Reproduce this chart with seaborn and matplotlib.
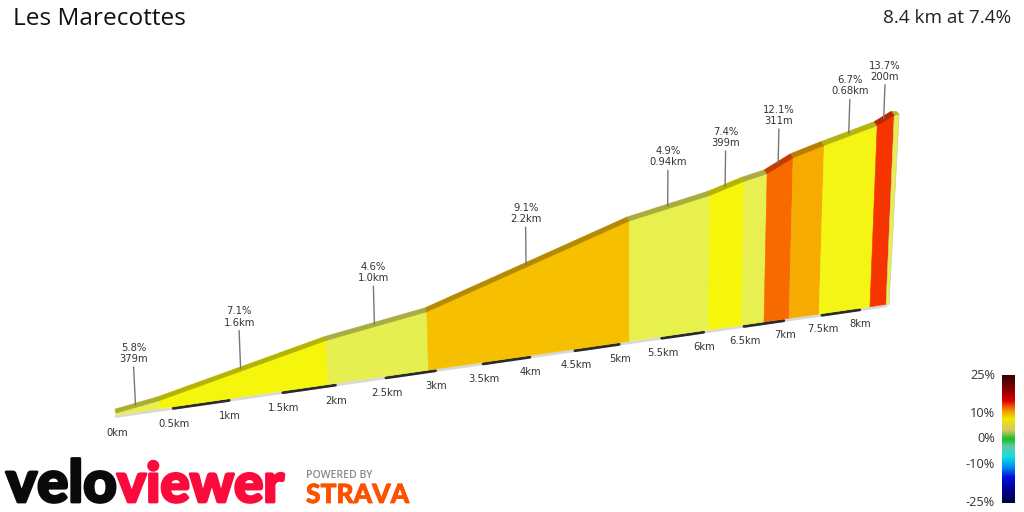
import numpy as np
import matplotlib.pyplot as plt
import matplotlib.patheffects as pe
import seaborn as sns
from matplotlib.colors import LinearSegmentedColormap

# profile: segment ends in km, elevation gain in metres
seg_km = [0, 0.379, 1.93, 2.93, 5.12, 6.06, 6.47, 6.75, 7.07, 7.46, 8.14, 8.36]
seg_elev = [0, 20, 136, 182, 382, 428, 458, 472, 512, 538, 578, 604]
seg_color = ["#e6ef4e", "#f6f50c", "#e6ef50", "#f6c000", "#e8f04e", "#f6f60a",
             "#e8ef50", "#f76a00", "#f6ab00", "#f4f514", "#f63400"]
seg_band = ["#aaae30", "#b4b400", "#a9ac40", "#b58a00", "#a8ac3c", "#b4b400",
            "#a9ac40", "#c43c00", "#b87c00", "#b4b410", "#b82800"]
seg_grade = ["5.8%", "7.1%", "4.6%", "9.1%", "4.9%", "7.4%", None, "12.1%", None, "6.7%", "13.7%"]
seg_len = ["379m", "1.6km", "1.0km", "2.2km", "0.94km", "399m", None, "311m", None, "0.68km", "200m"]

tick_km = [0, 0.5, 1, 1.5, 2, 2.5, 3, 3.5, 4, 4.5, 5, 5.5, 6, 6.5, 7, 7.5, 8]
tick_labels = ["0km", "0.5km", "1km", "1.5km", "2km", "2.5km", "3km", "3.5km", "4km",
               "4.5km", "5km", "5.5km", "6km", "6.5km", "7km", "7.5km", "8km"]

bar_ticks = [25, 10, 0, -10, -25]
bar_labels = ["25%", "10%", "0%", "-10%", "-25%"]
bar_stops = [-25, -20, -15, -11, -7, -3, 0, 3.5, 8, 11.5, 15, 20, 25]
bar_colors = ["#000040", "#000090", "#0010e0", "#0090f0", "#10e0e0", "#60c8a8", "#10c020",
              "#d0c860", "#f2e800", "#f58a00", "#e00000", "#800000", "#3a0000"]

TOTAL_KM = 8.36
PX_PER_M = 0.31


def project(km, elev):
    # perspective of the 3d view, result is in image pixels
    km = np.asarray(km, dtype=float)
    elev = np.asarray(elev, dtype=float)
    base_x = 116 + 116.6 * km / (1 + 0.0318 * km)
    base_y = 416 - 0.1436 * (base_x - 116)
    h = elev * PX_PER_M
    lean = (km - 5.18) * 0.0135
    return base_x + lean * h, base_y - h - 1


sns.set_theme(style="white")
plt.rcParams["font.family"] = ["DejaVu Sans"]

fig = plt.figure(figsize=(10.24, 5.12), dpi=100)
ax = fig.add_axes([0, 0, 1, 1])
ax.set_xlim(0, 1024)
ax.set_ylim(512, 0)
ax.axis("off")

# ground strip with the alternate dark half km pieces
strip_km = np.array([0, TOTAL_KM])
sx, sy = project(strip_km, [0, 0])
sns.lineplot(x=sx, y=sy + 1.5, color="#d8d8d8", lw=2, ax=ax, sort=False)
for km in tick_km[1::2]:
    if km + 0.5 <= TOTAL_KM:
        dx, dy = project([km, km + 0.5], [0, 0])
        sns.lineplot(x=dx, y=dy + 1.5, color="#2b2b2b", lw=2.2, ax=ax, sort=False)

top_x, top_y = project(seg_km, np.array(seg_elev) + 6)
bot_x, bot_y = project(seg_km, [0] * len(seg_km))
# road surface sits a bit up and to the left of the front face
back_x = top_x - 1 - np.array(seg_km) * 0.25
back_y = top_y - 4

for i in range(len(seg_color)):
    ax.fill([top_x[i], top_x[i + 1], bot_x[i + 1], bot_x[i]],
            [top_y[i], top_y[i + 1], bot_y[i + 1], bot_y[i]],
            facecolor=seg_color[i], edgecolor=seg_color[i], lw=0.4, zorder=2)
    ax.fill([back_x[i], back_x[i + 1], top_x[i + 1], top_x[i]],
            [back_y[i], back_y[i + 1], top_y[i + 1], top_y[i]],
            facecolor=seg_band[i], edgecolor=seg_band[i], lw=0.4, zorder=3)

# end face on the right
ax.fill([top_x[-1], top_x[-1] + 5, bot_x[-1] + 3, bot_x[-1]],
        [top_y[-1], top_y[-1] - 1, bot_y[-1], bot_y[-1]],
        facecolor="#e8ee50", edgecolor="#c8c8a0", lw=0.4, zorder=2)
ax.fill([back_x[-1], back_x[-1] + 5, top_x[-1] + 5, top_x[-1]],
        [back_y[-1], back_y[-1], top_y[-1] - 1, top_y[-1]],
        facecolor="#b8b040", edgecolor="#b8b040", lw=0.4, zorder=2)

# leader lines and their labels
for i, grade in enumerate(seg_grade):
    if grade is None:
        continue
    mid_km = (seg_km[i] + seg_km[i + 1]) / 2
    lx = (top_x[i] + top_x[i + 1]) / 2 - 2
    ly = (top_y[i] + top_y[i + 1]) / 2 - 2
    lean = (mid_km - 5) * 0.4
    gap = 41 - max(mid_km - 3, 0) * 0.8
    sns.lineplot(x=[lx, lx + lean], y=[ly, ly - gap + 3], color="#777777", lw=1, ax=ax, sort=False, zorder=4)
    ax.text(lx + lean, ly - gap, grade + "\n" + seg_len[i], ha="center", va="bottom",
            fontsize=7.2, color="#333333", linespacing=1.15, zorder=5)

for km, lab in zip(tick_km, tick_labels):
    tx, ty = project(km, 0)
    ax.text(tx + 1, ty + 17.5 - km * 0.25, lab, ha="center", va="center", fontsize=7.2, color="#333333")

ax.text(13, 19, "Les Marecottes", family="Open Sans", fontsize=17.6, color="#111111", va="center", ha="left")
ax.text(1011, 18, "8.4 km at 7.4%", family="Open Sans", fontsize=13.6, color="#222222", va="center", ha="right")

# logos
velo = ax.text(6, 502, "velo", family="Lato", weight="black", fontsize=42, color="#0a0a0a", va="baseline", ha="left")
velo.set_path_effects([pe.withStroke(linewidth=2, foreground="#0a0a0a")])
view = ax.text(117, 502, "viewer", family="Lato", weight="black", fontsize=39.4, color="#fc0a3c", va="baseline", ha="left")
view.set_path_effects([pe.withStroke(linewidth=2, foreground="#fc0a3c")])
ax.text(306, 478, "POWERED BY", family="Open Sans", weight="semibold", fontsize=7.6, color="#8a8a8a", va="baseline", ha="left")
strava = ax.text(306, 503, "STRAVA", family="Lato", weight="black", fontsize=19, color="#fc5200", va="baseline", ha="left")
strava.set_path_effects([pe.withStroke(linewidth=0.6, foreground="#fc5200")])

# gradient scale
cmap = LinearSegmentedColormap.from_list("grade", [((s + 25) / 50, c) for s, c in zip(bar_stops, bar_colors)])
cax = fig.add_axes([1002 / 1024, 1 - 503 / 512, 13 / 1024, 128 / 512])
bar_vals = np.linspace(25, -25, 128).reshape(-1, 1)
sns.heatmap(bar_vals, cmap=cmap, vmin=-25, vmax=25, cbar=False, xticklabels=False, yticklabels=False, ax=cax)
for val, lab in zip(bar_ticks, bar_labels):
    by = 439 - val * 2.55
    ax.text(995, by, lab, family="Open Sans", fontsize=9.2, color="#333333", ha="right", va="center")

fig.savefig("out.png", dpi=100)
